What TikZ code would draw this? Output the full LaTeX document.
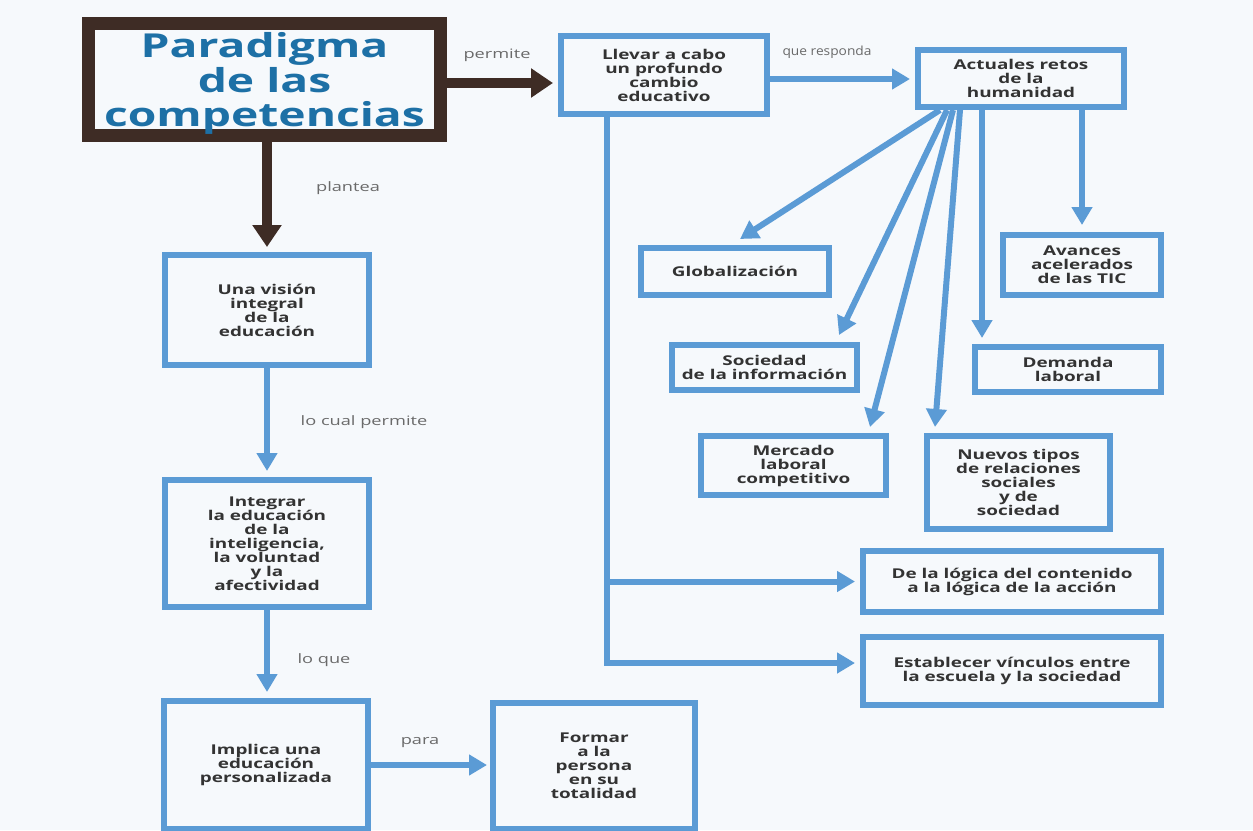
\documentclass[tikz,border=0pt]{standalone}
\usepackage{fontspec}
\setmainfont{Open Sans}
\newfontfamily\bx[FakeStretch=1.4]{Open Sans}
\newfontfamily\bxn[FakeStretch=1.1]{Open Sans}
\usetikzlibrary{arrows.meta,calc}
\definecolor{bblue}{HTML}{5B9BD5}
\definecolor{tblue}{HTML}{1D70A6}
\definecolor{dbrown}{HTML}{3E2C25}
\definecolor{bgc}{HTML}{F6F9FC}
\definecolor{txt}{HTML}{333333}
\definecolor{lbl}{HTML}{6A6A6A}
\begin{document}
\begin{tikzpicture}[x=1pt,y=-1pt,
  bbox/.style={draw=bblue, line width=6pt, align=center, text=txt, inner sep=0pt,
    font=\bx\bfseries\fontsize{13.5}{14}\selectfont},
  tbox/.style={draw=dbrown, line width=13pt, inner sep=0pt},
  ttext/.style={align=center, text=tblue, inner sep=0pt,
    font=\bx\bfseries\fontsize{33}{34.5}\selectfont},
  barrow/.style={draw=bblue, line width=6pt, -{Triangle[width=20pt,length=18pt]}},
  brarrow/.style={draw=dbrown, line width=10pt, -{Triangle[width=28pt,length=22pt]}},
  lab/.style={text=lbl, inner sep=0pt, font=\bx\fontsize{13}{14}\selectfont}
]
\fill[bgc] (0,0) rectangle (1253,830);
\path[use as bounding box] (0,0) rectangle (1253,830);

% nodes
\node[tbox, minimum width=352pt, minimum height=112pt] (title) at (264.5,79.5) {};
\node[ttext] (titletext) at (264.5,83.5) {Paradigma\\de las\\competencias};
\node[bbox, minimum width=206pt, minimum height=78pt] (llevar) at (664,75) {Llevar a cabo\\un profundo\\cambio\\educativo};
\node[bbox, minimum width=206pt, minimum height=57pt] (actuales) at (1021,78.5) {Actuales retos\\de la\\humanidad};
\node[bbox, minimum width=188pt, minimum height=47pt] (glob) at (735,271.5) {Globalización};
\node[bbox, minimum width=158pt, minimum height=60pt] (avances) at (1082,265) {Avances\\acelerados\\de las TIC};
\node[bbox, minimum width=185pt, minimum height=45pt] (sociedad) at (764.5,367.5) {Sociedad\\de la información};
\node[bbox, minimum width=186pt, minimum height=45pt] (demanda) at (1068,369.5) {Demanda\\laboral};
\node[bbox, minimum width=185pt, minimum height=59pt] (mercado) at (793.5,465.5) {Mercado\\laboral\\competitivo};
\node[bbox, minimum width=183pt, minimum height=93pt] (nuevos) at (1018.5,482.5) {Nuevos tipos\\de relaciones\\sociales\\y de\\sociedad};
\node[bbox, minimum width=298pt, minimum height=61pt] (logica) at (1012,581.5) {De la lógica del contenido\\a la lógica de la acción};
\node[bbox, minimum width=298pt, minimum height=68pt] (establecer) at (1012,671) {Establecer vínculos entre\\la escuela y la sociedad};
\node[bbox, minimum width=204pt, minimum height=110pt] (vision) at (267,310) {Una visión\\integral\\de la\\educación};
\node[bbox, minimum width=204pt, minimum height=127pt] (integrar) at (267,543.5) {Integrar\\la educación\\de la\\inteligencia,\\la voluntad\\y la\\afectividad};
\node[bbox, minimum width=204pt, minimum height=128pt] (implica) at (266,765) {Implica una\\educación\\personalizada};
\node[bbox, minimum width=202pt, minimum height=126pt] (formar) at (594,766) {Formar\\a la\\persona\\en su\\totalidad};

% labels
\node[lab] (l1) at (497,55) {permite};
\node[lab, font=\bxn\fontsize{12.5}{14}\selectfont] (l2) at (827,52) {que responda};
\node[lab] (l3) at (348,188) {plantea};
\node[lab] (l4) at (364,422) {lo cual permite};
\node[lab] (l5) at (324,660) {lo que};
\node[lab] (l6) at (420,743) {para};

% brown arrows
\draw[brarrow, shorten >=5pt] ([yshift=-3.5pt]title.east) -- ([yshift=-3.5pt]title.east -| llevar.west);
\draw[brarrow, shorten >=5pt] (title.south -| vision.north) -- (vision.north);

% blue arrows
\draw[barrow, shorten >=6pt] (vision.south) -- (integrar.north);
\draw[barrow, shorten >=6pt] (integrar.south) -- (integrar.south |- implica.north);
\draw[barrow, shorten >=3pt] (implica.east) -- (implica.east -| formar.west);
\draw[barrow, shorten >=5pt] ([yshift=-4pt]llevar.east) -- ([yshift=-4pt]llevar.east -| actuales.west);

\coordinate (trunk) at ([xshift=-57pt]llevar.south);
\draw[barrow, shorten >=5pt, line join=miter] (trunk) |- ([yshift=8pt]establecer.west);
\draw[barrow, shorten >=5pt] (trunk |- logica.west) -- (logica.west);

\draw[barrow] ([xshift=-81pt]actuales.south) -- ([xshift=5pt,yshift=6pt]glob.north);
\draw[barrow] ([xshift=-74pt]actuales.south) -- ([xshift=-21pt,yshift=7pt]sociedad.north east);
\draw[barrow] ([xshift=-68pt]actuales.south) -- ([xshift=-19pt,yshift=6pt]mercado.north east);
\draw[barrow] ([xshift=-61pt]actuales.south) -- ([xshift=11pt,yshift=6pt]nuevos.north west);
\draw[barrow] ([xshift=10pt]demanda.north west |- actuales.south) -- ([xshift=10pt,yshift=6pt]demanda.north west);
\draw[barrow] (avances.north |- actuales.south) -- ([yshift=7pt]avances.north);
\end{tikzpicture}
\end{document}
